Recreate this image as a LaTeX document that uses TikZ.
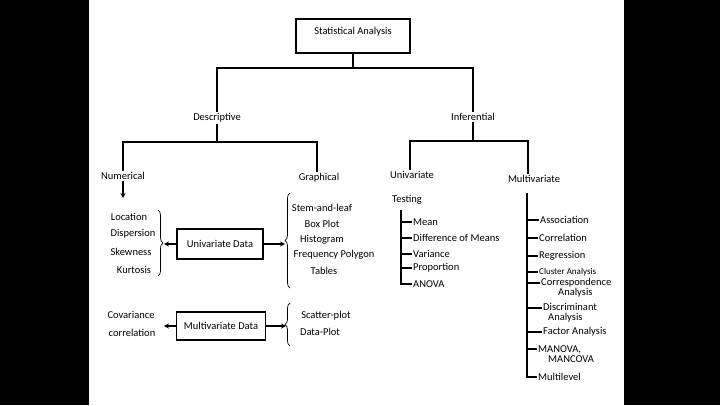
\documentclass[tikz,border=0pt]{standalone}
\usepackage{fontspec}
\setmainfont{Carlito}
\usetikzlibrary{arrows.meta,decorations.pathreplacing}

\begin{document}
\begin{tikzpicture}[x=1pt,y=-1pt,
	lbl/.style={inner sep=1pt,font=\fontsize{10.5}{10}\selectfont},
	box/.style={draw,line width=1.2pt,inner sep=2pt,font=\fontsize{10.5}{10}\selectfont},
	tree/.style={line width=1.2pt},
	arr/.style={line width=1.2pt,-{Stealth[length=5pt,width=5pt]}},
	brc/.style={line width=0.7pt,decorate,decoration={brace,amplitude=5pt}}]
	\fill[black] (0,0) rectangle (720,405);
	\fill[white] (89,0) rectangle (624,405);
	\useasboundingbox (0,0) rectangle (720,405);
	\node[box,minimum width=114pt,minimum height=34pt,text height=6pt,text depth=10pt] (stat) at (353,36) {Statistical Analysis};
	\node[lbl] (desc) at (217,118) {Descriptive};
	\node[lbl] (infer) at (473,117) {Inferential};
	\coordinate (top) at (353,68);
	\draw[tree] (stat) -- (top);
	\draw[tree] (desc) |- (top) -| (infer);
	\node[lbl] (num) at (123,176) {Numerical};
	\node[lbl] (graph) at (319,178) {Graphical};
	\coordinate (jd) at (217,142);
	\draw[tree] (desc) -- (jd);
	\draw[tree] (num) |- (jd) -| ([xshift=-2pt]graph.north);
	\node[lbl] (uni) at (412,175) {Univariate};
	\node[lbl] (multi) at (534,179) {Multivariate};
	\coordinate (ji) at (473,141);
	\draw[tree] (infer) -- (ji);
	\draw[tree] ([xshift=-2pt]uni.north) |- (ji) -| ([xshift=-6pt]multi.north);
	\draw[arr] (num) -- ++(0,22);
	\node[lbl] (loc) at (129,217) {Location};
	\node[lbl] (disp) at (133,234) {Dispersion};
	\node[lbl] (skew) at (131,252) {Skewness};
	\node[lbl] (kurt) at (134,270) {Kurtosis};
	\draw[brc] (158,210) -- (158,276);
	\node[box,minimum width=86pt,minimum height=30pt] (ud) at (220,244) {Univariate Data};
	\coordinate (ltip) at (164,244);
	\coordinate (rtip) at (285,244);
	\draw[arr] (ud) -- (ltip);
	\draw[arr] (ud) -- (rtip);
	\draw[brc] (290,288) -- (290,193);
	\node[lbl] (stem) at (322,208) {Stem-and-leaf};
	\node[lbl] (boxp) at (322,224) {Box Plot};
	\node[lbl] (hist) at (322,240) {Histogram};
	\node[lbl] (freq) at (334,255) {Frequency Polygon};
	\node[lbl] (tab) at (324,271) {Tables};
	\node[lbl] (cov) at (131,315) {Covariance};
	\node[lbl] (corl) at (132,333) {correlation};
	\node[box,minimum width=89pt,minimum height=28pt] (md) at (221,326) {Multivariate Data};
	\coordinate (ctip) at (164,326);
	\coordinate (stip) at (286,326);
	\draw[arr] (md) -- (ctip);
	\draw[arr] (md) -- (stip);
	\draw[brc] (290,346) -- (290,303);
	\node[lbl] (scat) at (326,316) {Scatter-plot};
	\node[lbl] (datap) at (320,332) {Data-Plot};
	\node[lbl] (test) at (407,200) {Testing};
	\coordinate (tv) at (401,210);
	\foreach \n/\t/\y in {mean/Mean/222,diff/Difference of Means/238,var/Variance/254,prop/Proportion/268,anova/ANOVA/284}
		\node[lbl,anchor=west] (\n) at (412,\y) {\t};
	\draw[tree] (tv) |- (anova);
	\foreach \n in {mean,diff,var,prop}
		\draw[tree] (tv |- \n) -- (\n);
	\coordinate (mv) at (527,193);
	\node[lbl,anchor=west] (assoc) at (539,220) {Association};
	\node[lbl,anchor=west] (corr) at (538,238) {Correlation};
	\node[lbl,anchor=west] (regr) at (538,256) {Regression};
	\node[lbl,anchor=west,font=\fontsize{9}{9}\selectfont] (clus) at (538,272) {Cluster Analysis};
	\node[lbl,anchor=west,align=left] (cresp) at (540,288) {Correspondence\\\hspace*{17pt}Analysis};
	\node[lbl,anchor=west,align=left] (disc) at (542,313) {Discriminant\\\hspace*{5pt}Analysis};
	\node[lbl,anchor=west] (fact) at (542,332) {Factor Analysis};
	\node[lbl,anchor=west,align=left] (manova) at (537,354) {MANOVA,\\\hspace*{10pt}MANCOVA};
	\node[lbl,anchor=west] (mlev) at (537,377) {Multilevel};
	\draw[tree] (mv) |- (mlev);
	\foreach \n in {assoc,corr,regr,clus,fact}
		\draw[tree] (mv |- \n) -- (\n);
	\foreach \n in {cresp,disc,manova}{
		\coordinate (t\n) at ([yshift=5pt]\n.west);
		\draw[tree] (mv |- t\n) -- (t\n);
	}
\end{tikzpicture}
\end{document}
